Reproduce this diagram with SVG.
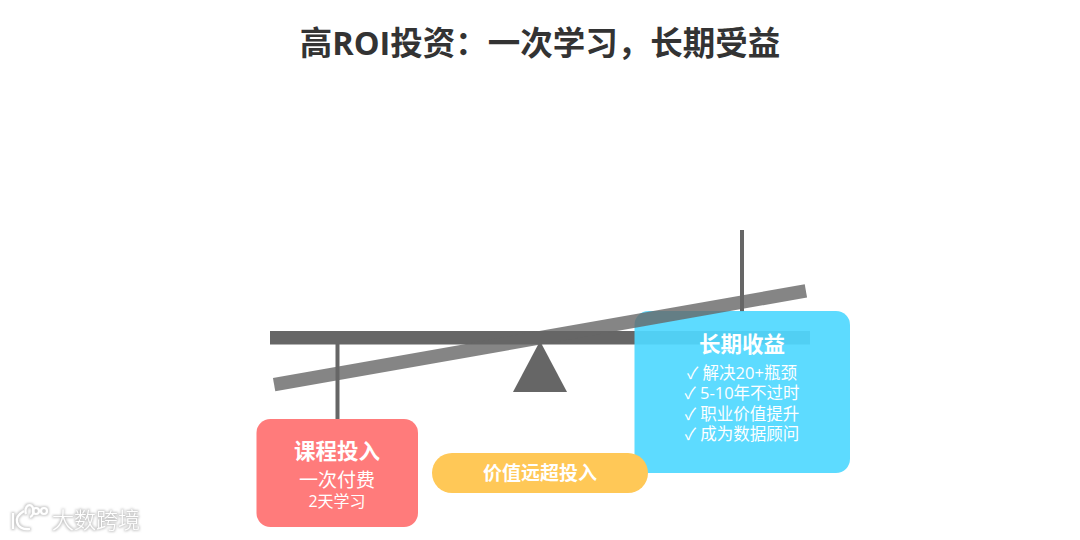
<svg xmlns="http://www.w3.org/2000/svg" width="1080" height="540" viewBox="0 0 1080 540">
<style>
text{font-family:"Open Sans","Noto Sans CJK SC",sans-serif;text-anchor:middle;fill:#fff}
.t{font-size:32.500px;font-weight:700;fill:#333}
.h{font-size:21.500px;font-weight:700}
.m{font-size:19px}
.s{font-size:16px}
.l{font-size:16.500px}
.v{font-size:19px;font-weight:700}
.bar{fill:#666}
.wm{font-size:22px;text-anchor:start;font-weight:300}
.lg{fill:none;stroke:#fff;stroke-width:2.200}
</style>
<defs>
<filter id="glow" x="-10%" y="-30%" width="120%" height="160%">
<feMorphology in="SourceAlpha" operator="dilate" radius=".6" result="d"/>
<feGaussianBlur in="d" stdDeviation="1"/>
<feColorMatrix values="0 0 0 0 .45 0 0 0 0 .45 0 0 0 0 .45 0 0 0 .7 0" result="s"/>
<feMerge><feMergeNode in="s"/><feMergeNode in="SourceGraphic"/></feMerge>
</filter>
</defs>
<rect width="1080" height="540" fill="#fff"/>
<text class="t" x="540" y="55">高ROI投资：一次学习，长期受益</text>
<g id="connectors">
<rect class="bar" x="335.500" y="344" width="4" height="76"/>
<rect class="bar" x="740" y="230" width="4" height="82"/>
</g>
<g id="beam-level"><rect class="bar" x="270" y="331" width="540" height="13.500"/></g>
<g id="fulcrum"><polygon class="bar" points="540,341 567,392 513,392"/></g>
<g id="node-input">
<rect x="256.500" y="419" width="161.500" height="108" rx="14" fill="#ff7b7b"/>
<text class="h" x="337" y="459">课程投入</text>
<text class="m" x="337" y="487">一次付费</text>
<text class="s" x="337" y="507">2天学习</text>
</g>
<g id="node-return">
<rect x="634.500" y="311" width="215.500" height="162" rx="14" fill="#4fd8ff" opacity=".92"/>
<text class="h" x="742" y="352">长期收益</text>
<text class="l" x="742" y="379">✓ 解决20+瓶颈</text>
<text class="l" x="742" y="399">✓ 5-10年不过时</text>
<text class="l" x="742" y="420">✓ 职业价值提升</text>
<text class="l" x="742" y="440">✓ 成为数据顾问</text>
</g>
<g id="beam-tilted"><rect class="bar" x="270" y="331" width="540" height="13.500" opacity=".8" transform="rotate(-10 540 337.750)"/></g>
<g id="node-value">
<rect x="432" y="453" width="216" height="40" rx="20" fill="#ffc857"/>
<text class="v" x="540" y="480">价值远超投入</text>
</g>
<g id="watermark" filter="url(#glow)">
<path class="lg" d="M13 513v16M24 511c-5 3-8 7-7 11 1 5 6 8 13 7"/>
<path class="lg" d="M26 514a4 6 0 1 1 4 3"/>
<circle class="lg" cx="36" cy="511" r="3"/><circle class="lg" cx="44" cy="511" r="3"/>
<text class="wm" x="52" y="528">大数跨境</text>
</g>
</svg>
